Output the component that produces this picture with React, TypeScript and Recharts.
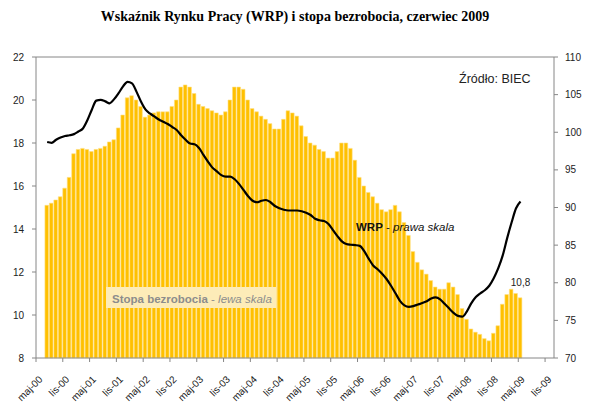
import { Bar, ComposedChart, Line, ReferenceDot, ReferenceLine, XAxis, YAxis } from 'recharts'

const MONTHS = ['sty', 'lut', 'mar', 'kwi', 'maj', 'cze', 'lip', 'sie', 'wrz', 'paź', 'lis', 'gru']

// maj-00 .. gru-09, monthly
const categories = Array.from({ length: 116 }, (_, k) => {
  const m = (4 + k) % 12
  const y = Math.floor((4 + k) / 12)
  return `${MONTHS[m]}-${String(y).padStart(2, '0')}`
})

// stopa bezrobocia, % (lewa skala)
const bezrobocie = [
  null, null,
  15.1, 15.2, 15.35, 15.5, 15.9, 16.4, 17.5, 17.7, 17.75, 17.7, 17.6, 17.7, 17.75, 17.85, 18.05, 18.15, 18.7, 19.3, 20.1,
  20.2, 20.0, 19.7, 19.2, 19.3, 19.4, 19.45, 19.45, 19.45, 19.7, 20.0, 20.6, 20.7, 20.6, 20.3, 19.8, 19.7, 19.6, 19.5, 19.4,
  19.3, 19.45, 20.0, 20.6, 20.6, 20.5, 20.0, 19.6, 19.45, 19.25, 19.1, 18.9, 18.65, 18.65, 19.1, 19.5, 19.4, 19.25, 18.8, 18.3,
  18.0, 17.9, 17.7, 17.6, 17.3, 17.3, 17.6, 18.0, 18.0, 17.75, 17.2, 16.4, 16.0, 15.7, 15.5, 15.2, 14.9, 14.8, 14.9, 15.1,
  14.8, 14.3, 13.7, 12.95, 12.45, 12.1, 11.9, 11.6, 11.3, 11.2, 11.2, 11.5, 11.3, 10.95, 10.3, 9.8, 9.35, 9.2, 9.1, 8.9,
  8.8, 9.15, 9.5, 10.5, 10.95, 11.2, 11.0, 10.8,
]

// WRP (prawa skala)
const wrp = [
  null, null,
  98.7, 98.6, 99.0, 99.3, 99.5, 99.6, 99.75, 100.1, 100.5, 101.6, 103.0, 104.2, 104.3, 104.1, 103.85, 104.4, 105.2, 106.1, 106.7,
  106.5, 105.4, 104.1, 103.05, 102.5, 102.1, 101.7, 101.4, 101.1, 100.7, 100.3, 99.6, 99.0, 98.5, 98.4, 97.9, 97.0, 96.1, 95.3, 94.8,
  94.3, 94.1, 94.1, 93.75, 93.1, 92.3, 91.5, 90.9, 90.7, 90.9, 91.0, 90.7, 90.2, 89.9, 89.7, 89.6, 89.6, 89.6, 89.5, 89.3,
  89.0, 88.5, 88.3, 88.2, 87.8, 87.0, 86.2, 85.5, 85.15, 85.05, 85.0, 84.9, 84.2, 83.2, 82.3, 81.8, 81.2, 80.5, 79.6, 78.6,
  77.6, 77.0, 76.8, 76.9, 77.1, 77.3, 77.55, 77.9, 78.05, 77.8, 77.2, 76.6, 76.0, 75.6, 75.5, 76.2, 77.3, 78.1, 78.6, 79.0,
  79.6, 80.6, 81.9, 83.6, 85.9, 88.0, 89.9, 90.8,
]

const leftTicks = [8, 10, 12, 14, 16, 18, 20, 22]
const rightTicks = [70, 75, 80, 85, 90, 95, 100, 105, 110]

const data = categories.map((label, i) => ({
  label,
  bez: bezrobocie[i] ?? null,
  wrp: wrp[i] ?? null,
}))

const lastIndex = bezrobocie.length - 1
const lastValue = bezrobocie[lastIndex] as number
const axisColor = '#868686'
const sans = '"Liberation Sans", Arial, sans-serif'

function MonthTick(props: any) {
  const { x, payload } = props
  const half = payload?.offset ?? 2.23
  return (
    <g>
      <line x1={x - half} y1={358} x2={x - half} y2={362} stroke={axisColor} />
      <text
        x={x + 5}
        y={380}
        transform={`rotate(-45 ${x + 5} 380)`}
        textAnchor="end"
        fontSize={10}
        fontFamily={sans}
        fill="#222"
      >
        {payload.value}
      </text>
    </g>
  )
}

export default function App() {
  return (
    <div style={{ position: 'absolute', left: 0, top: 0, width: 590, height: 404, background: '#fff' }}>
      <ComposedChart width={590} height={404} data={data} margin={{ top: 57, right: 0, bottom: 0, left: 0 }}>
        <XAxis
          dataKey="label"
          height={46}
          interval={5}
          tickLine={false}
          axisLine={{ stroke: axisColor }}
          tick={<MonthTick />}
        />
        <YAxis
          yAxisId="left"
          width={36}
          domain={[8, 22]}
          ticks={leftTicks}
          tickSize={4}
          tickMargin={8}
          axisLine={{ stroke: axisColor }}
          tickLine={{ stroke: axisColor }}
          tick={{ fontSize: 10, fontFamily: sans, fill: '#222' }}
        />
        <YAxis
          yAxisId="right"
          orientation="right"
          width={36}
          domain={[70, 110]}
          ticks={rightTicks}
          tickSize={4}
          tickMargin={7}
          axisLine={{ stroke: axisColor }}
          tickLine={{ stroke: axisColor }}
          tick={{ fontSize: 10, fontFamily: sans, fill: '#222' }}
        />
        <ReferenceLine yAxisId="left" y={22} stroke={axisColor} />
        <Bar
          yAxisId="left"
          dataKey="bez"
          barSize={3.6}
          fill="#FFC000"
          stroke="#FFDF80"
          strokeWidth={0.6}
          isAnimationActive={false}
        />
        <Line
          yAxisId="right"
          dataKey="wrp"
          type="monotone"
          stroke="#000"
          strokeWidth={2.2}
          dot={false}
          activeDot={false}
          isAnimationActive={false}
        />
        <ReferenceDot
          yAxisId="left"
          x={categories[lastIndex]}
          y={lastValue}
          r={0}
          fill="none"
          stroke="none"
          label={{
            value: String(lastValue).replace('.', ','),
            position: 'top',
            offset: 12,
            fontSize: 10,
            fontFamily: sans,
            fill: '#222',
          }}
        />
      </ComposedChart>
      <svg
        width={590}
        height={404}
        style={{ position: 'absolute', left: 0, top: 0, pointerEvents: 'none' }}
      >
        <text
          x={295}
          y={21}
          textAnchor="middle"
          fontFamily='"Liberation Serif", "Times New Roman", serif'
          fontWeight="bold"
          fontSize={14}
          fill="#000"
        >
          Wskaźnik Rynku Pracy (WRP) i stopa bezrobocia, czerwiec 2009
        </text>
        <text x={459} y={83} fontFamily={sans} fontSize={12.5} fill="#222">
          Źródło: BIEC
        </text>
        <text x={356} y={231} fontFamily={sans} fontSize={11.5} fill="#111">
          <tspan fontWeight="bold">WRP</tspan>
          <tspan> - </tspan>
          <tspan fontStyle="italic">prawa skala</tspan>
        </text>
        <rect x={106} y={287} width={170} height={21} fill="#FDECB8" />
        <text x={112} y={303} fontFamily={sans} fontSize={11.5} fill="#8C8C8C">
          <tspan fontWeight="bold">Stopa bezrobocia</tspan>
          <tspan> - </tspan>
          <tspan fontStyle="italic">lewa skala</tspan>
        </text>
      </svg>
    </div>
  )
}
